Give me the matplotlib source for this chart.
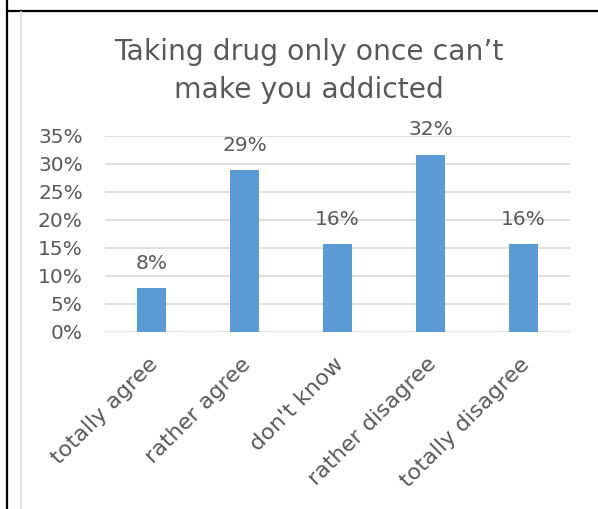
import matplotlib
matplotlib.use("Agg")
import matplotlib.pyplot as plt
from matplotlib.lines import Line2D
from matplotlib.ticker import FuncFormatter
from matplotlib.transforms import ScaledTranslation

categories = ["totally agree", "rather agree", "don't know", "rather disagree", "totally disagree"]
shares = [0.078, 0.288, 0.157, 0.316, 0.157]
y_ticks = [0.0, 0.05, 0.10, 0.15, 0.20, 0.25, 0.30, 0.35]
title_lines = ["Taking drug only once can\u2019t", "make you addicted"]

text_color = "#595959"
bar_color = "#5B9BD5"
grid_color = "#D9D9D9"

plt.rcParams["font.family"] = ["DejaVu Sans"]

W, H = 598, 509
fig = plt.figure(figsize=(W / 100, H / 100), dpi=100)

# plot area in pixel terms: x 105..570, y 135.7..331.7
ax = fig.add_axes([105 / W, (H - 331.7) / H, 465 / W, 196 / H])

x = list(range(len(categories)))
bars = ax.bar(x, shares, width=0.31, color=bar_color, zorder=3)

for rect, v in zip(bars, shares):
    ax.annotate(f"{v:.0%}", (rect.get_x() + rect.get_width() / 2, v),
                xytext=(0, 11), textcoords="offset points",
                ha="center", va="bottom", fontsize=14.5, color=text_color)

ax.set_xlim(-0.5, len(categories) - 0.5)
ax.set_ylim(0, 0.35)
ax.set_yticks(y_ticks)
ax.yaxis.set_major_formatter(FuncFormatter(lambda v, _: f"{v:.0%}"))
ax.grid(axis="y", color=grid_color, linewidth=1.2, zorder=0)
for side in ["top", "right", "left", "bottom"]:
    ax.spines[side].set_visible(False)
ax.tick_params(axis="y", length=0, pad=16, labelsize=14.5, labelcolor=text_color)
ax.tick_params(axis="x", length=0, pad=16, labelsize=16, labelcolor=text_color)
ax.set_xticks(x)
ax.set_xticklabels(categories, rotation=45, ha="right", va="top", rotation_mode="anchor")
shift = ScaledTranslation(-4 / 100, 0, fig.dpi_scale_trans)
for lbl in ax.get_xticklabels():
    lbl.set_transform(lbl.get_transform() + shift)

# two-line title, baselines at y=60 and y=98 px from the top
for line, base in zip(title_lines, [60, 98]):
    fig.text(308.5 / W, 1 - base / H, line, ha="center", va="baseline",
             fontsize=20.3, color=text_color)

# table cell borders around the chart
fig.add_artist(Line2D([7 / W, 1], [1 - 10.5 / H, 1 - 10.5 / H], color="black", linewidth=1.6))
fig.add_artist(Line2D([7 / W, 7 / W], [0, 1], color="black", linewidth=1.6))
fig.add_artist(Line2D([21 / W, 21 / W], [0, 1 - 12 / H], color=grid_color, linewidth=1.2))

fig.savefig("out.png", dpi=100)
